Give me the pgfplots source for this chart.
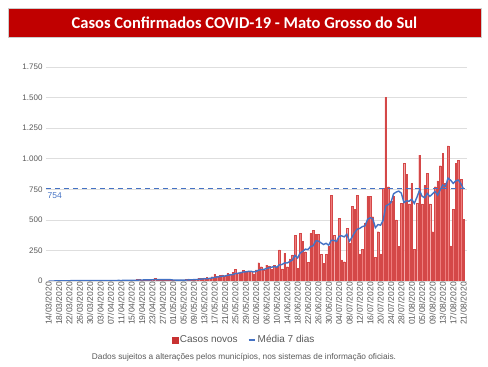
\documentclass[border=0pt]{standalone}
\usepackage{fontspec}
\setmainfont{Liberation Sans}
\newfontfamily\titlefont{Carlito}
\usepackage{pgfplots}
\usepackage{pgfplotstable}
\pgfplotsset{compat=1.18}
\definecolor{titlered}{RGB}{192,0,0}
\definecolor{barfill}{RGB}{238,125,125}
\definecolor{baredge}{RGB}{212,72,72}
\definecolor{legred}{RGB}{200,50,50}
\definecolor{avgblue}{RGB}{68,114,196}
\definecolor{txtgray}{RGB}{89,89,89}
\definecolor{gridgray}{RGB}{222,222,222}

\pgfplotstableread{
d casos media
0 2 0.3
1 0 0.3
2 0 0.3
3 3 0.7
4 1 0.9
5 4 1.4
6 2 1.7
7 1 1.6
8 5 2.3
9 3 2.7
10 2 2.6
11 4 3.0
12 3 2.9
13 5 3.3
14 2 3.4
15 6 3.6
16 4 3.7
17 3 3.9
18 5 4.0
19 4 4.1
20 3 3.9
21 6 4.4
22 2 3.9
23 5 4.0
24 4 4.1
25 3 3.9
26 7 4.3
27 5 4.6
28 4 4.3
29 6 4.9
30 3 4.6
31 8 5.1
32 5 5.4
33 6 5.3
34 12 6.3
35 15 7.9
36 8 8.1
37 10 9.1
38 6 8.9
39 9 9.4
40 12 10.3
41 24 12.0
42 10 11.3
43 8 11.3
44 11 11.4
45 9 11.9
46 7 11.6
47 6 10.7
48 5 8.0
49 8 7.7
50 6 7.4
51 9 7.1
52 7 6.9
53 12 7.6
54 18 9.3
55 10 10.0
56 14 10.9
57 16 12.3
58 20 13.9
59 22 16.0
60 25 17.9
61 28 19.3
62 24 21.3
63 35 24.3
64 55 29.9
65 38 32.4
66 45 35.7
67 50 39.3
68 42 41.3
69 62 46.7
70 58 50.0
71 70 52.1
72 98 60.7
73 65 63.6
74 75 67.1
75 88 73.7
76 70 74.9
77 82 78.3
78 80 79.7
79 60 74.3
80 90 77.9
81 150 88.6
82 117 92.7
83 85 94.9
84 130 101.7
85 123 107.9
86 95 112.9
87 130 118.6
88 110 112.9
89 254 132.4
90 100 134.6
91 226 148.3
92 117 147.4
93 180 159.6
94 213 171.4
95 376 209.4
96 104 188.0
97 390 229.4
98 322 243.1
99 240 260.7
100 153 256.9
101 390 282.1
102 417 288.0
103 384 328.0
104 384 327.1
105 218 312.3
106 144 298.6
107 220 308.1
108 281 292.6
109 703 333.4
110 376 332.3
111 322 323.4
112 512 365.4
113 172 369.4
114 158 360.6
115 431 382.0
116 308 325.6
117 608 358.7
118 586 396.4
119 703 423.7
120 221 430.7
121 259 445.1
122 470 450.7
123 690 505.3
124 690 517.0
125 526 508.4
126 194 435.7
127 403 461.7
128 221 456.3
129 758 497.4
130 1500 613.1
131 771 624.7
132 649 642.3
133 690 713.1
134 499 726.9
135 281 735.4
136 635 717.9
137 962 641.0
138 872 655.4
139 630 652.7
140 799 668.3
141 259 634.0
142 635 684.6
143 1030 741.0
144 630 693.6
145 780 680.4
146 880 716.1
147 630 692.0
148 403 712.6
149 771 732.0
150 818 701.7
151 943 746.4
152 1046 784.4
153 800 773.0
154 1106 841.0
155 287 824.4
156 587 798.1
157 964 819.0
158 986 825.1
159 830 794.3
160 505 752.1
}\data

\begin{document}
\begin{tikzpicture}
\path[use as bounding box] (0pt,0pt) rectangle (488pt,367pt);
\fill[titlered] (8pt,330pt) rectangle (481pt,359pt);
\draw[gray!40, line width=0.5pt] (8pt,330pt) rectangle (481pt,359pt);
\node[text=white, font=\titlefont\bfseries\fontsize{16.5}{18}\selectfont] at (244.5pt,344.5pt) {Casos Confirmados COVID-19 - Mato Grosso do Sul};
\begin{axis}[
  at={(46pt,86pt)}, anchor=south west,
  scale only axis, width=420.7pt, height=214pt,
  xmin=-1, xmax=161.2, ymin=0, ymax=1750,
  ytick={0,250,...,1750},
  xtick={0,4,...,160},
  xticklabels={14/03/2020,18/03/2020,22/03/2020,26/03/2020,30/03/2020,03/04/2020,07/04/2020,11/04/2020,15/04/2020,19/04/2020,23/04/2020,27/04/2020,01/05/2020,05/05/2020,09/05/2020,13/05/2020,17/05/2020,21/05/2020,25/05/2020,29/05/2020,02/06/2020,06/06/2020,10/06/2020,14/06/2020,18/06/2020,22/06/2020,26/06/2020,30/06/2020,04/07/2020,08/07/2020,12/07/2020,16/07/2020,20/07/2020,24/07/2020,28/07/2020,01/08/2020,05/08/2020,09/08/2020,13/08/2020,17/08/2020,21/08/2020},
  x tick label style={rotate=90, anchor=east, font=\fontsize{8.5}{9}\selectfont, text=txtgray, inner sep=1pt},
  y tick label style={font=\fontsize{8}{9}\selectfont, text=txtgray},
  /pgf/number format/assume math mode=true,
  /pgf/number format/.cd, 1000 sep={.}, /pgfplots/.cd,
  ymajorgrids, major grid style={gridgray, line width=0.6pt},
  axis line style={draw=none}, tick style={draw=none},
  legend columns=2,
  legend style={at={(0.4707,-0.2757)}, anchor=center, draw=none, fill=none,
    font=\fontsize{10}{12}\selectfont, text=txtgray,
    /tikz/every even column/.append style={column sep=8pt}},
]
\addplot[ybar, bar width=1.6pt, fill=barfill, draw=baredge, line width=0.3pt,
  legend image code/.code={\fill[legred] (0pt,-3pt) rectangle (6pt,3pt);}]
  table[x=d, y=casos]{\data};
\addlegendentry{Casos novos}
\addplot[avgblue, line width=1.3pt, dash pattern=on 5pt off 4pt, forget plot]
  coordinates {(-1,754) (161.2,754)};
\addplot[avgblue, line width=1.4pt, mark=none,
  legend image code/.code={\draw[avgblue, line width=2pt] (0pt,0pt) -- (6pt,0pt);}]
  table[x=d, y=media]{\data};
\addlegendentry{Média 7 dias}
\node[anchor=north west, text=avgblue, font=\fontsize{8.5}{9}\selectfont, inner sep=1pt] at (axis cs:-0.8,735) {754};
\end{axis}
\node[text=txtgray, font=\fontsize{8.3}{9}\selectfont] at (244pt,10pt) {Dados sujeitos a alterações pelos municípios, nos sistemas de informação oficiais.};
\end{tikzpicture}
\end{document}
